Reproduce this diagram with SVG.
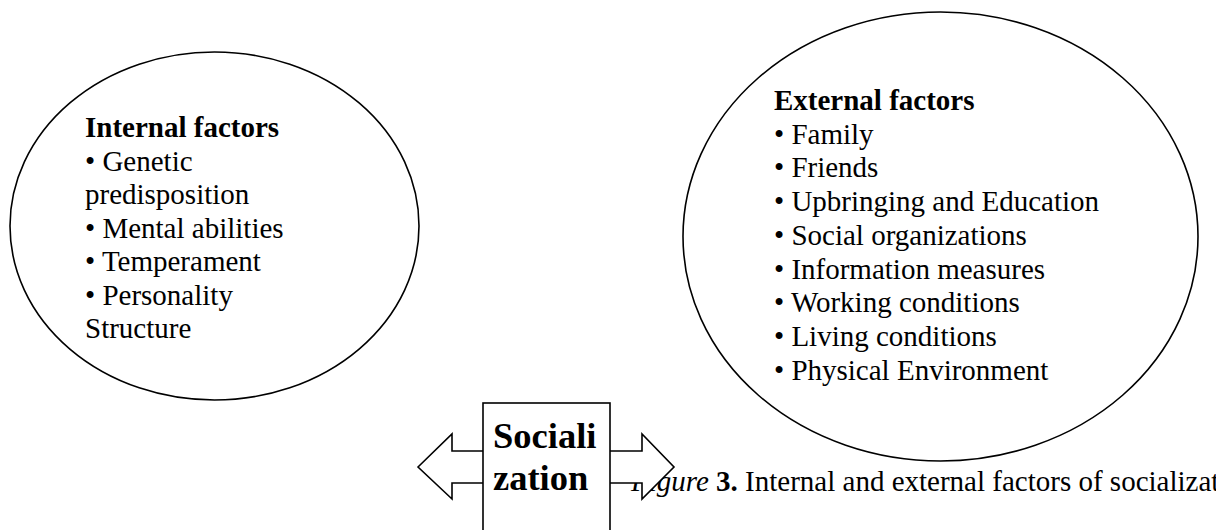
<svg xmlns="http://www.w3.org/2000/svg" width="1216" height="530" viewBox="0 0 1216 530">
<style>
.shape{fill:#fff;stroke:#000;stroke-width:1.6}
.t{font-family:"Liberation Serif","Times New Roman",serif;font-size:29px;fill:#000}
.b{font-weight:bold}
.soc{font-family:"Liberation Serif","Times New Roman",serif;font-size:36.5px;font-weight:bold;fill:#000}
</style>
<rect width="1216" height="530" fill="#fff"/>
<g id="internal">
<ellipse class="shape" cx="214.5" cy="226" rx="204.5" ry="174"/>
<text class="t" x="85" y="137"><tspan class="b">Internal factors</tspan><tspan x="85" y="170.5">• Genetic</tspan><tspan x="85" y="204">predisposition</tspan><tspan x="85" y="237.5">• Mental abilities</tspan><tspan x="85" y="271">• Temperament</tspan><tspan x="85" y="304.5">• Personality</tspan><tspan x="85" y="338">Structure</tspan></text>
</g>
<g id="external">
<ellipse class="shape" cx="940.5" cy="236.5" rx="257.5" ry="224.5"/>
<text class="t" x="774" y="110"><tspan class="b">External factors</tspan><tspan x="774" y="143.7">• Family</tspan><tspan x="774" y="177.4">• Friends</tspan><tspan x="774" y="211.1">• Upbringing and Education</tspan><tspan x="774" y="244.8">• Social organizations</tspan><tspan x="774" y="278.5">• Information measures</tspan><tspan x="774" y="312.2">• Working conditions</tspan><tspan x="774" y="345.9">• Living conditions</tspan><tspan x="774" y="379.6">• Physical Environment</tspan></text>
</g>
<g id="caption">
<text class="t" x="631" y="491"><tspan font-style="italic">Figure</tspan> <tspan class="b">3.</tspan> Internal and external factors of socialization.</text>
</g>
<g id="connectors">
<path class="shape" d="M418,467 L452,434 L452,451 L642,451 L642,434 L674,467 L642,499 L642,483 L452,483 L452,499 Z"/>
</g>
<g id="socialization">
<rect class="shape" x="483" y="403" width="127" height="140"/>
<text class="soc" x="493" y="448">Sociali<tspan x="493" y="490">zation</tspan></text>
</g>
</svg>
